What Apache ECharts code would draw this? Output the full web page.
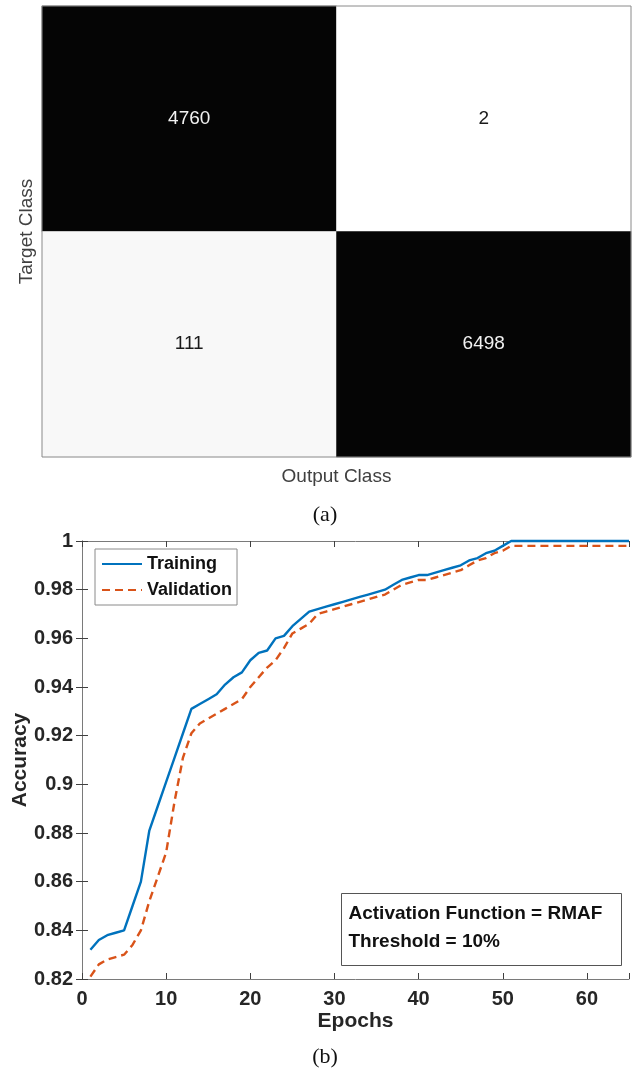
<!DOCTYPE html>
<html>
<head>
<meta charset="utf-8">
<script src="https://cdn.jsdelivr.net/npm/echarts@6/dist/echarts.min.js"></script>
<style>
  html, body { margin: 0; padding: 0; background: #fff; }
  #chart { width: 635px; height: 1074px; }
</style>
</head>
<body>
<div id="chart"></div>
<script>
// confusion matrix (rows = target class, columns = output class)
const classes = ['1', '2'];
const confusion = [
  [4760, 2],
  [111, 6498]
];

// accuracy per epoch
const epochs = [];
for (let e = 1; e <= 65; e++) epochs.push(e);
const training = [
  0.832, 0.836, 0.838, 0.839, 0.840, 0.850, 0.860, 0.881, 0.891, 0.901,
  0.911, 0.921, 0.931, 0.933, 0.935, 0.937, 0.941, 0.944, 0.946, 0.951,
  0.954, 0.955, 0.960, 0.961, 0.965, 0.968, 0.971, 0.972, 0.973, 0.974,
  0.975, 0.976, 0.977, 0.978, 0.979, 0.980, 0.982, 0.984, 0.985, 0.986,
  0.986, 0.987, 0.988, 0.989, 0.990, 0.992, 0.993, 0.995, 0.996, 0.998,
  1, 1, 1, 1, 1, 1, 1, 1, 1, 1, 1, 1, 1, 1, 1
];
const validation = [
  0.821, 0.826, 0.828, 0.829, 0.830, 0.834, 0.840, 0.852, 0.862, 0.872,
  0.893, 0.911, 0.921, 0.925, 0.927, 0.929, 0.931, 0.933, 0.935, 0.940,
  0.944, 0.948, 0.951, 0.956, 0.962, 0.964, 0.966, 0.970, 0.971, 0.972,
  0.973, 0.974, 0.975, 0.976, 0.977, 0.978, 0.980, 0.982, 0.983, 0.984,
  0.984, 0.985, 0.986, 0.987, 0.988, 0.990, 0.992, 0.993, 0.995, 0.996,
  0.998, 0.998, 0.998, 0.998, 0.998, 0.998, 0.998, 0.998, 0.998, 0.998,
  0.998, 0.998, 0.998, 0.998, 0.998
];
const xTicks = [0, 10, 20, 30, 40, 50, 60];

const sans = '"Liberation Sans", Arial, sans-serif';
const serif = '"Liberation Serif", "DejaVu Serif", serif';

// heatmap cells
const cells = [];
confusion.forEach((row, r) => {
  row.forEach((v, c) => {
    cells.push({
      value: [c, r, v],
      label: { color: v > 1000 ? '#f2f2f2' : '#1a1a1a' }
    });
  });
});

const lineAxisLine = { show: true, lineStyle: { color: '#7a7a7a', width: 1 } };
const lineTick = { show: true, inside: true, length: 6, lineStyle: { color: '#404040' } };

const chart = echarts.init(document.getElementById('chart'), null, { renderer: 'canvas' });

chart.setOption({
  animation: false,
  backgroundColor: '#fff',
  grid: [
    { left: 42, top: 6, width: 589, height: 451, show: true, z: 10, outerBoundsMode: 'none',
      backgroundColor: 'transparent', borderColor: '#8a8a8a', borderWidth: 1 },
    { left: 82, top: 541, width: 547, height: 438, outerBoundsMode: 'none' }
  ],
  xAxis: [
    {
      type: 'category', gridIndex: 0, data: classes,
      axisLine: { show: false }, axisTick: { show: false }, axisLabel: { show: false },
      name: 'Output Class', nameLocation: 'middle', nameGap: 10, nameMoveOverlap: false,
      nameTextStyle: { fontFamily: sans, fontSize: 19, color: '#404040' }
    },
    {
      type: 'value', gridIndex: 1, min: 0, max: 65, interval: 10,
      axisLine: lineAxisLine, axisTick: lineTick, splitLine: { show: false },
      axisLabel: {
        margin: 10, fontFamily: sans, fontSize: 20, fontWeight: 'bold', color: '#262626',
        formatter: v => (xTicks.indexOf(v) >= 0 ? String(v) : '')
      },
      name: 'Epochs', nameLocation: 'middle', nameGap: 32, nameMoveOverlap: false,
      nameTextStyle: { fontFamily: sans, fontSize: 21, fontWeight: 'bold', color: '#262626' }
    },
    {
      type: 'value', gridIndex: 1, position: 'top', min: 0, max: 65, interval: 10,
      axisLine: lineAxisLine, axisTick: lineTick, axisLabel: { show: false }, splitLine: { show: false }
    }
  ],
  yAxis: [
    {
      type: 'category', gridIndex: 0, data: classes, inverse: true,
      axisLine: { show: false }, axisTick: { show: false }, axisLabel: { show: false },
      name: 'Target Class', nameLocation: 'middle', nameGap: 6, nameMoveOverlap: false,
      nameTextStyle: { fontFamily: sans, fontSize: 19, color: '#404040' }
    },
    {
      type: 'value', gridIndex: 1, min: 0.82, max: 1, interval: 0.02,
      axisLine: lineAxisLine, axisTick: lineTick, splitLine: { show: false },
      axisLabel: {
        margin: 9, fontFamily: sans, fontSize: 20, fontWeight: 'bold', color: '#262626',
        formatter: v => String(parseFloat(v.toFixed(2)))
      },
      name: 'Accuracy', nameLocation: 'middle', nameGap: 51, nameMoveOverlap: false,
      nameTextStyle: { fontFamily: sans, fontSize: 21, fontWeight: 'bold', color: '#262626' }
    },
    {
      type: 'value', gridIndex: 1, position: 'right', min: 0.82, max: 1, interval: 0.02,
      axisLine: lineAxisLine, axisTick: lineTick, axisLabel: { show: false }, splitLine: { show: false }
    }
  ],
  visualMap: {
    show: false, seriesIndex: 0, type: 'piecewise', dimension: 2,
    pieces: [
      { lt: 50, color: '#ffffff' },
      { gte: 50, lt: 1000, color: '#f8f8f8' },
      { gte: 1000, color: '#050505' }
    ]
  },
  legend: {
    left: 95, top: 549, orient: 'vertical',
    data: ['Training', 'Validation'],
    itemWidth: 40, itemHeight: 14, itemGap: 8,
    padding: [6, 5, 6, 6],
    itemStyle: { opacity: 0 },
    borderColor: '#8a8a8a', borderWidth: 1, backgroundColor: '#fff',
    textStyle: { fontFamily: sans, fontSize: 18, fontWeight: 'bold', color: '#111' }
  },
  series: [
    {
      type: 'heatmap', xAxisIndex: 0, yAxisIndex: 0, data: cells,
      label: { show: true, fontFamily: sans, fontSize: 19 },
      itemStyle: { borderWidth: 0 }
    },
    {
      name: 'Training', type: 'line', xAxisIndex: 1, yAxisIndex: 1,
      data: epochs.map((e, i) => [e, training[i]]),
      symbol: 'none', clip: false, z: 4,
      lineStyle: { color: '#0072BD', width: 2.4 }, itemStyle: { color: '#0072BD' }
    },
    {
      name: 'Validation', type: 'line', xAxisIndex: 1, yAxisIndex: 1,
      data: epochs.map((e, i) => [e, validation[i]]),
      symbol: 'none', clip: false, z: 3,
      lineStyle: { color: '#D95319', width: 2.4, type: [8, 5] }, itemStyle: { color: '#D95319' }
    }
  ],
  graphic: [
    {
      type: 'group', left: 341, top: 893, z: 20,
      children: [
        { type: 'rect', shape: { x: 0, y: 0, width: 280, height: 72 },
          style: { fill: '#fff', stroke: '#555', lineWidth: 1 } },
        { type: 'text', x: 7, y: 20,
          style: { text: 'Activation Function = RMAF', font: 'bold 19px ' + sans,
                   fill: '#111', verticalAlign: 'middle' } },
        { type: 'text', x: 7, y: 48,
          style: { text: 'Threshold = 10%', font: 'bold 19px ' + sans,
                   fill: '#111', verticalAlign: 'middle' } }
      ]
    },
    { type: 'text', x: 325, y: 515,
      style: { text: '(a)', font: '22px ' + serif, fill: '#111', align: 'center', verticalAlign: 'middle' } },
    { type: 'text', x: 325, y: 1057,
      style: { text: '(b)', font: '22px ' + serif, fill: '#111', align: 'center', verticalAlign: 'middle' } }
  ]
});

window.addEventListener('resize', () => chart.resize());
</script>
</body>
</html>
